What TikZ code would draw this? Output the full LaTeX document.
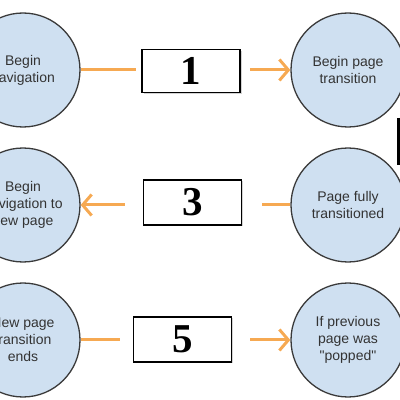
\documentclass[tikz,border=0pt]{standalone}
\usepackage{fontspec}
\setmainfont{Liberation Sans}
\newfontfamily\numfont{Liberation Serif}
\usetikzlibrary{arrows.meta,shadows}
\definecolor{stateblue}{HTML}{CFE0F1}
\definecolor{stateline}{HTML}{3A3A3A}
\definecolor{linkorange}{HTML}{F6A952}
\begin{document}
\begin{tikzpicture}[x=1pt,y=1pt,
  state/.style={circle,draw=stateline,line width=1.3pt,fill=stateblue,minimum size=114pt,
    align=center,text=black!80,font=\fontsize{14}{17}\selectfont},
  numbox/.style={draw=black,line width=1.6pt,fill=white,minimum width=98pt,minimum height=43pt,
    font=\numfont\bfseries\fontsize{41}{41}\selectfont,
    drop shadow={shadow xshift=1.5pt,shadow yshift=-1.5pt,opacity=0.35}},
  link/.style={draw=linkorange,line width=3pt},
  arr/.style={link,-{Straight Barb[length=9pt,width=21pt]}}]
\useasboundingbox (0,0) rectangle (400,400);
\clip (0,0) rectangle (400,400);
\foreach \x/\y/\name/\txt in {23/330/s1/{Begin\\navigation},348/330/s2/{Begin page\\transition},
  348/195/s3/{Page fully\\transitioned},23/195/s4/{Begin\\navigation to\\new page},
  23/60/s5/{New page\\transition\\ends},348/60/s6/{If previous\\page was\\\textquotedbl popped\textquotedbl}}
{
\node[state] (\name) at (\x,\y) {\txt};
}
\node[numbox] (b1) at (191,329) {1};
\node[numbox,minimum height=45pt] (b3) at (192.5,197.5) {3};
\node[numbox,minimum height=45pt] (b5) at (182.5,60.5) {5};
% row 1
\draw[link,shorten >=5pt] (s1) -- (s1 -| b1.west);
\draw[arr,shorten <=9pt] (b1.east |- s2) -- (s2);
% row 2
\draw[link,shorten >=20pt] (s3) -- (s3 -| b3.east);
\draw[arr,shorten <=18pt] (b3.west |- s4) -- (s4);
% row 3
\draw[link,shorten >=13pt] (s5) -- (s5 -| b5.west);
\draw[arr,shorten <=18pt] (b5.east |- s6) -- (s6);
\draw[line width=3pt] (398.5,282) -- (398.5,235);
\end{tikzpicture}
\end{document}
